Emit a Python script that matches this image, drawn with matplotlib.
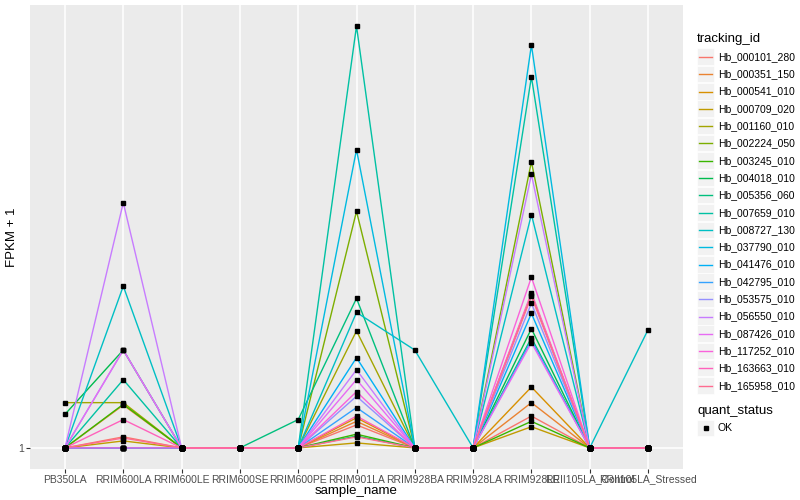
import numpy as np
import matplotlib.pyplot as plt
from matplotlib.lines import Line2D
from matplotlib.patches import Rectangle

plt.rcParams['font.family'] = ['Liberation Sans', 'DejaVu Sans']

# названия образцов (ось X)
samples = ['PB350LA', 'RRIM600LA', 'RRIM600LE', 'RRIM600SE', 'RRIM600PE', 'RRIM901LA',
           'RRIM928BA', 'RRIM928LA', 'RRIM928LE', 'RRII105LA_Control', 'RRII105LA_Stressed']

tracking_ids = ['Hb_000101_280', 'Hb_000351_150', 'Hb_000541_010', 'Hb_000709_020',
                'Hb_001160_010', 'Hb_002224_050', 'Hb_003245_010', 'Hb_004018_010',
                'Hb_005356_060', 'Hb_007659_010', 'Hb_008727_130', 'Hb_037790_010',
                'Hb_041476_010', 'Hb_042795_010', 'Hb_053575_010', 'Hb_056550_010',
                'Hb_087426_010', 'Hb_117252_010', 'Hb_163663_010', 'Hb_165958_010']

colors = ['#F8766D', '#EA8331', '#D89000', '#C09B00', '#A3A500', '#7CAE00', '#39B600',
          '#00BB4E', '#00BF7D', '#00C1A3', '#00BFC4', '#00BAE0', '#00B0F6', '#35A2FF',
          '#9590FF', '#C77CFF', '#E76BF3', '#FA62DB', '#FF62BC', '#FF6C91']

# FPKM + 1 по образцам (порядок как в samples)
Hb_000101_280 = [1, 1.056, 1, 1, 1, 1.12, 1, 1, 1.17, 1, 1]
Hb_000351_150 = [1, 1.235, 1, 1, 1, 1.14, 1, 1, 1.25, 1, 1]
Hb_000541_010 = [1, 1, 1, 1, 1, 1.16, 1, 1, 1.35, 1, 1]
Hb_000709_020 = [1, 1.035, 1, 1, 1, 1.025, 1, 1, 1.11, 1, 1]
Hb_001160_010 = [1.25, 1.25, 1, 1, 1, 1.78, 1, 1, 2.13, 1, 1]
Hb_002224_050 = [1, 1, 1, 1, 1, 3.21, 1, 1, 4.10, 1, 1]
Hb_003245_010 = [1, 1.24, 1, 1, 1, 1.07, 1, 1, 1.14, 1, 1]
Hb_004018_010 = [1.18, 1.62, 1, 1, 1, 1.06, 1, 1, 1.80, 1, 1]
Hb_005356_060 = [1, 1, 1, 1, 1.15, 2.09, 1, 1, 1.72, 1, 1]
Hb_007659_010 = [1, 1.40, 1, 1, 1, 8.00, 1, 1, 6.23, 1, 1]
Hb_008727_130 = [1, 2.22, 1, 1, 1, 1.95, 1.62, 1, 3.16, 1, 1.79]
Hb_037790_010 = [1, 1, 1, 1, 1, 4.35, 1, 1, 7.29, 1, 1]
Hb_041476_010 = [1, 1, 1, 1, 1, 1.56, 1, 1, 1.94, 1, 1]
Hb_042795_010 = [1, 1, 1, 1, 1, 1.22, 1, 1, 1.70, 1, 1]
Hb_053575_010 = [1, 1.62, 1, 1, 1, 1.29, 1, 1, 2.04, 1, 1]
Hb_056550_010 = [1, 3.35, 1, 1, 1, 1.47, 1, 1, 3.85, 1, 1]
Hb_087426_010 = [1, 1.62, 1, 1, 1, 1.40, 1, 1, 1.68, 1, 1]
Hb_117252_010 = [1, 1, 1, 1, 1, 1.32, 1, 1, 2.32, 1, 1]
Hb_163663_010 = [1, 1.15, 1, 1, 1, 1.17, 1, 1, 2.15, 1, 1]
Hb_165958_010 = [1, 1.05, 1, 1, 1, 1.056, 1, 1, 2.11, 1, 1]

values = [Hb_000101_280, Hb_000351_150, Hb_000541_010, Hb_000709_020, Hb_001160_010,
          Hb_002224_050, Hb_003245_010, Hb_004018_010, Hb_005356_060, Hb_007659_010,
          Hb_008727_130, Hb_037790_010, Hb_041476_010, Hb_042795_010, Hb_053575_010,
          Hb_056550_010, Hb_087426_010, Hb_117252_010, Hb_163663_010, Hb_165958_010]

fig = plt.figure(figsize=(8, 5), dpi=100)
ax = fig.add_axes([30 / 800, 31 / 500, 653 / 800, 464 / 500])
ax.set_facecolor('#EBEBEB')

x = np.arange(len(samples))
for vals, c in zip(values, colors):
    ax.plot(x, vals, color=c, lw=1.0, zorder=2)
for vals in values:
    ax.plot(x, vals, ls='none', marker='s', ms=2.4, color='black', zorder=3)

ax.set_yscale('log')
lo, hi = 0.0, np.log10(max(max(v) for v in values))
pad = (hi - lo) * 0.05
ax.set_ylim(10 ** (lo - pad), 10 ** (hi + pad))
ax.set_xlim(-0.6, len(samples) - 1 + 0.6)

ax.set_xticks(x)
ax.set_xticklabels(samples)
ax.set_yticks([1])
ax.set_yticklabels(['1'])
ax.yaxis.set_minor_locator(plt.NullLocator())
ax.grid(True, color='white', lw=1.1, zorder=0)
ax.set_axisbelow(True)
for s in ax.spines.values():
    s.set_visible(False)
ax.tick_params(axis='both', length=3, width=0.8, color='#333333', labelcolor='#4D4D4D',
               labelsize=7.5, pad=1)

ax.set_xlabel('sample_name', fontsize=9.5, va='center')
ax.xaxis.set_label_coords(0.5, -22 / 464)
ax.set_ylabel('FPKM + 1', fontsize=9.5, va='center')
ax.yaxis.set_label_coords(-18 / 653, 0.5)

# легенда tracking_id
fig.text(697 / 800, 1 - 39 / 500, 'tracking_id', fontsize=9.5, va='center', ha='left')
row = 17.3
for i, (lab, c) in enumerate(zip(tracking_ids, colors)):
    yc = 57 + i * row
    fig.patches.append(Rectangle((697 / 800, 1 - (yc + 8) / 500), 17 / 800, 16.5 / 500,
                                 transform=fig.transFigure, facecolor='#F2F2F2',
                                 edgecolor='white', lw=0.5))
    fig.lines.append(Line2D([699 / 800, 712 / 800], [1 - yc / 500, 1 - yc / 500],
                            transform=fig.transFigure, color=c, lw=1.0))
    fig.text(718 / 800, 1 - yc / 500, lab, fontsize=7.5, va='center', ha='left')

# легенда quant_status
fig.text(697 / 800, 1 - 411 / 500, 'quant_status', fontsize=9.5, va='center', ha='left')
fig.patches.append(Rectangle((697 / 800, 1 - 436 / 500), 17 / 800, 16.5 / 500,
                             transform=fig.transFigure, facecolor='#F2F2F2',
                             edgecolor='white', lw=0.5))
fig.lines.append(Line2D([705.5 / 800], [1 - 428 / 500], transform=fig.transFigure,
                        marker='s', ms=2.4, color='black', ls='none'))
fig.text(718 / 800, 1 - 428 / 500, 'OK', fontsize=7.5, va='center', ha='left')

plt.savefig('out.png', dpi=100)
